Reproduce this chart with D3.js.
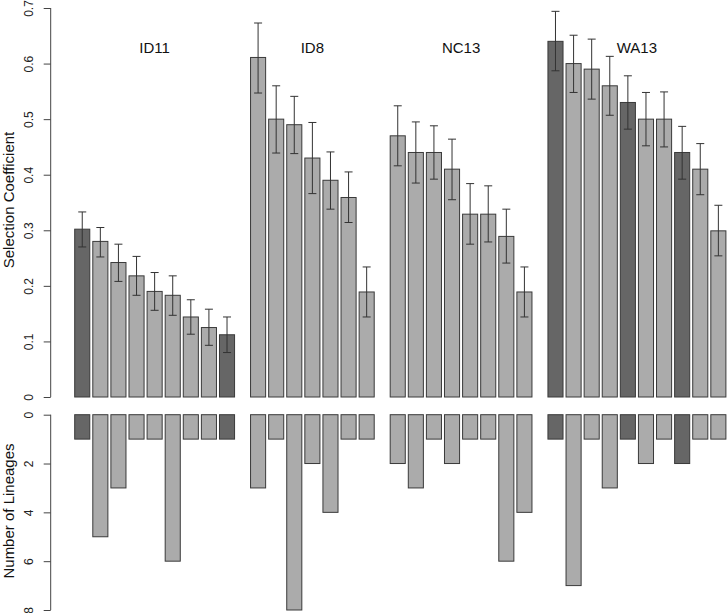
<!DOCTYPE html>
<html><head><meta charset="utf-8">
<script src="https://cdn.jsdelivr.net/npm/d3@7/dist/d3.min.js"></script>
<style>body{margin:0;background:#fff}svg{display:block}text{font-family:"Liberation Sans",Arial,Helvetica,sans-serif}</style>
</head><body><svg id="c" width="727" height="613"></svg>
<script>
const groups = ["ID11","ID8","NC13","WA13"];
const selID11 = [0.302,0.280,0.242,0.218,0.190,0.183,0.144,0.125,0.112];
const hiID11  = [0.333,0.305,0.275,0.253,0.224,0.218,0.175,0.158,0.144];
const loID11  = [0.270,0.252,0.208,0.183,0.156,0.147,0.113,0.093,0.080];
const linID11 = [1,5,3,1,1,6,1,1,1];
const darkID11 = [1,0,0,0,0,0,0,0,1];

const selID8 = [0.611,0.500,0.490,0.430,0.390,0.359,0.189];
const hiID8  = [0.673,0.560,0.541,0.494,0.441,0.405,0.234];
const loID8  = [0.547,0.439,0.438,0.366,0.338,0.314,0.144];
const linID8 = [3,1,8,2,4,1,1];
const darkID8 = [0,0,0,0,0,0,0];

const selNC13 = [0.470,0.440,0.440,0.410,0.329,0.329,0.289,0.189];
const hiNC13  = [0.524,0.495,0.488,0.464,0.384,0.380,0.338,0.234];
const loNC13  = [0.416,0.385,0.392,0.355,0.275,0.279,0.241,0.144];
const linNC13 = [2,3,1,2,1,1,6,4];
const darkNC13 = [0,0,0,0,0,0,0,0];

const selWA13 = [0.640,0.600,0.590,0.560,0.530,0.500,0.500,0.440,0.410,0.299];
const hiWA13  = [0.694,0.651,0.644,0.613,0.578,0.548,0.549,0.487,0.456,0.345];
const loWA13  = [0.587,0.548,0.536,0.507,0.482,0.452,0.450,0.392,0.364,0.254];
const linWA13 = [1,7,1,3,1,2,1,2,1,1];
const darkWA13 = [1,0,0,0,1,0,0,1,0,0];

const topTicks = [0,0.1,0.2,0.3,0.4,0.5,0.6,0.7];
const botTicks = [0,2,4,6,8];

const src = [
  [selID11,hiID11,loID11,linID11,darkID11],
  [selID8,hiID8,loID8,linID8,darkID8],
  [selNC13,hiNC13,loNC13,linNC13,darkNC13],
  [selWA13,hiWA13,loWA13,linWA13,darkWA13]
];
// Build bar table in "units" (bar width 1, space 0.2, group gap extra)
const GAP = 0.86;
const bars = [];
const groupSpan = [];
let k = 0;
src.forEach((g, gi) => {
  const start = 0.2 + k*1.2 + gi*GAP;
  g[0].forEach((v, i) => {
    bars.push({g: gi, sel: v, hi: g[1][i], lo: g[2][i], lin: g[3][i], dark: g[4][i],
               u: 0.2 + k*1.2 + gi*GAP});
    k++;
  });
  const end = bars[bars.length-1].u + 1;
  groupSpan.push([start, end]);
});
const lastU = bars[bars.length-1].u + 1;

const x = d3.scaleLinear().domain([0.2, lastU]).range([74.7, 725.9]);
const yTop = d3.scaleLinear().domain([0, 0.7]).range([397, 8]);
const yBot = d3.scaleLinear().domain([0, 8]).range([414.7, 610]);

const svg = d3.select("#c");
const LIGHT = "#ababab", DARK = "#666666", EDGE = "#3a3a3a";

// top bars
svg.append("g").selectAll("rect").data(bars).join("rect")
  .attr("x", d => x(d.u)).attr("width", d => x(d.u+1)-x(d.u))
  .attr("y", d => yTop(d.sel)).attr("height", d => yTop(0)-yTop(d.sel))
  .attr("fill", d => d.dark ? DARK : LIGHT).attr("stroke", EDGE).attr("stroke-width", 1);

// error bars
const eb = svg.append("g").attr("stroke", "#333").attr("stroke-width", 1).attr("fill","none");
bars.forEach(d => {
  const cx = x(d.u + 0.5);
  eb.append("line").attr("x1", cx).attr("x2", cx).attr("y1", yTop(d.hi)).attr("y2", yTop(d.lo));
  eb.append("line").attr("x1", cx-4).attr("x2", cx+4).attr("y1", yTop(d.hi)).attr("y2", yTop(d.hi));
  eb.append("line").attr("x1", cx-4).attr("x2", cx+4).attr("y1", yTop(d.lo)).attr("y2", yTop(d.lo));
});

// bottom bars
svg.append("g").selectAll("rect").data(bars).join("rect")
  .attr("x", d => x(d.u)).attr("width", d => x(d.u+1)-x(d.u))
  .attr("y", yBot(0)).attr("height", d => yBot(d.lin)-yBot(0))
  .attr("fill", d => d.dark ? DARK : LIGHT).attr("stroke", EDGE).attr("stroke-width", 1);

// group titles
svg.append("g").selectAll("text").data(groups).join("text")
  .attr("x", (d,i) => x((groupSpan[i][0]+groupSpan[i][1])/2))
  .attr("y", 52.5).attr("text-anchor","middle").attr("font-size", 15).attr("fill","#111")
  .text(d => d);

// axes
function yAxis(scale, ticks, fmt) {
  const g = svg.append("g").attr("transform", "translate(50.7,0)");
  const ax = d3.axisLeft(scale).tickValues(ticks).tickSize(7).tickPadding(0).tickFormat(fmt);
  g.call(ax);
  g.select(".domain").attr("stroke","#444").attr("d", `M0,${scale(ticks[0])}V${scale(ticks[ticks.length-1])}`);
  g.selectAll(".tick line").attr("stroke","#444");
  g.selectAll(".tick text")
    .attr("x", null).attr("dy", null)
    .attr("transform", "translate(-17.5,0) rotate(-90)")
    .attr("text-anchor","middle").attr("y", 0)
    .attr("font-size", 12).attr("fill","#222")
    .style("font-family", '"Liberation Sans",Arial,sans-serif');
  return g;
}
yAxis(yTop, topTicks, d => d === 0 ? "0" : d3.format(".1f")(d));
yAxis(yBot, botTicks, d => String(d));

svg.append("text").attr("transform", "translate(13.5,200) rotate(-90)")
  .attr("text-anchor","middle").attr("font-size", 15).attr("fill","#111").text("Selection Coefficient");
svg.append("text").attr("transform", "translate(13.5,511) rotate(-90)")
  .attr("text-anchor","middle").attr("font-size", 15).attr("fill","#111").text("Number of Lineages");
</script></body></html>
